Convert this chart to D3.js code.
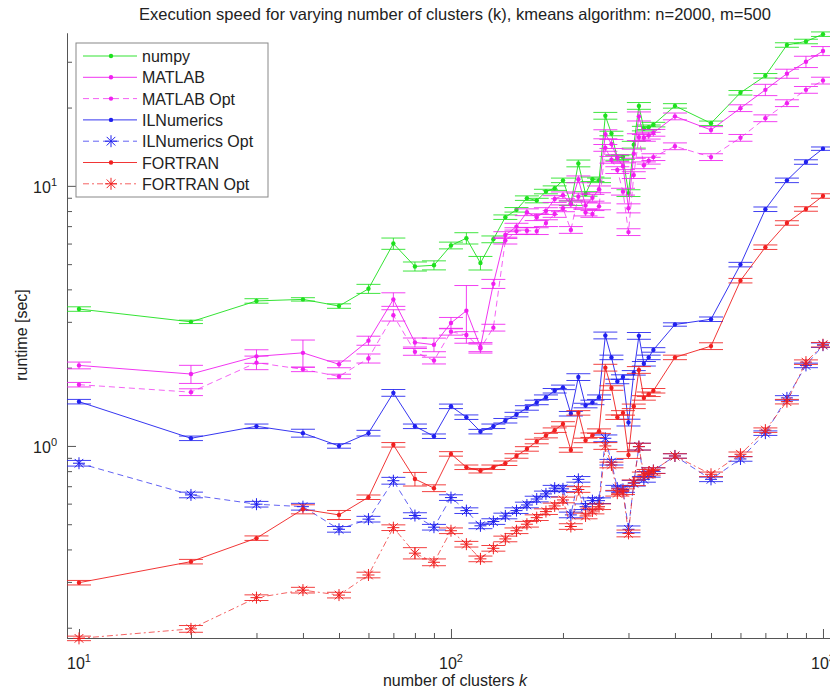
<!DOCTYPE html>
<html>
<head>
<meta charset="utf-8">
<script src="https://cdn.jsdelivr.net/npm/d3@7"></script>
<style>
  body { margin: 0; background: #fff; }
  text { font-family: "Liberation Sans", Arial, sans-serif; fill: #222; }
</style>
</head>
<body>
<script>
// number of clusters k
var k = [10, 20, 30, 40, 50, 60, 70, 80, 90, 100,
  110, 120, 130, 140, 150, 160, 170, 180, 190, 200,
  210, 220, 230, 240, 250, 260, 270, 280, 290, 300,
  310, 320, 330, 340, 350,
  400, 500, 600, 700, 800, 900, 1000];

// runtime [sec] per implementation
var numpy = [3.36, 3.0, 3.61, 3.66, 3.45, 4.02, 6.0, 4.9, 4.95, 5.9,
  6.29, 5.05, 6.23, 7.58, 8.09, 8.97, 8.78, 9.51, 9.8, 10.5,
  8.58, 12.2, 9.31, 10.6, 10.5, 18.6, 15.9, 12.8, 12.9, 9.38,
  14.4, 20.3, 16.6, 16.8, 17.2,
  20.3, 17.4, 22.8, 26.5, 34.8, 35.9, 38.3];
var matlab = [2.04, 1.89, 2.21, 2.28, 2.06, 2.54, 3.66, 2.5, 2.45, 2.97,
  3.31, 2.4, 4.2, 6.47, 6.97, 7.92, 7.58, 8.0, 8.9, 9.2,
  8.5, 10.6, 8.4, 9.0, 9.7, 15.8, 14.5, 12.8, 11.9, 8.2,
  13.3, 18.5, 15.3, 15.6, 16.0,
  18.5, 16.4, 19.9, 23.4, 27.0, 30.0, 33.0];
var matlabOpt = [1.72, 1.61, 2.09, 1.97, 1.85, 2.17, 3.18, 2.3, 2.13, 2.75,
  2.67, 2.37, 2.85, 6.16, 6.7, 6.72, 6.7, 7.19, 7.8, 8.2,
  6.77, 9.1, 7.9, 7.8, 8.34, 14.0, 12.6, 11.5, 9.5, 6.64,
  11.0, 15.4, 12.0, 12.5, 12.9,
  14.2, 12.9, 15.3, 18.2, 20.8, 23.4, 25.4];
var ilnumerics = [1.48, 1.07, 1.19, 1.12, 1.0, 1.12, 1.6, 1.19, 1.09, 1.42,
  1.29, 1.135, 1.19, 1.25, 1.32, 1.4, 1.47, 1.54, 1.63, 1.68,
  1.33, 1.84, 1.43, 1.47, 1.54, 2.66, 2.19, 1.77, 1.84, 1.23,
  1.91, 2.65, 2.07, 2.19, 2.34,
  2.93, 3.07, 4.98, 8.13, 10.5, 12.35, 13.9];
var ilnumericsOpt = [0.858, 0.648, 0.597, 0.584, 0.478, 0.523, 0.735, 0.54, 0.487, 0.633,
  0.564, 0.493, 0.512, 0.538, 0.564, 0.593, 0.625, 0.654, 0.688, 0.684,
  0.543, 0.744, 0.584, 0.616, 0.616, 1.07, 0.866, 0.688, 0.68, 0.478,
  0.719, 0.994, 0.744, 0.778, 0.804,
  0.915, 0.744, 0.891, 1.12, 1.53, 2.04, 2.44];
var fortran = [0.298, 0.359, 0.442, 0.571, 0.543, 0.635, 1.01, 0.746, 0.688, 0.932,
  0.828, 0.803, 0.828, 0.858, 0.915, 0.974, 1.04, 1.096, 1.15, 1.215,
  0.965, 1.34, 1.05, 1.1, 1.14, 2.0, 1.67, 1.29, 1.34, 0.923,
  1.42, 1.96, 1.53, 1.58, 1.63,
  2.19, 2.42, 4.32, 5.81, 7.2, 8.15, 9.14];
var fortranOpt = [0.182, 0.198, 0.261, 0.279, 0.267, 0.319, 0.485, 0.387, 0.357, 0.472,
  0.419, 0.368, 0.404, 0.439, 0.472, 0.5, 0.53, 0.559, 0.588, 0.62,
  0.49, 0.68, 0.538, 0.562, 0.584, 1.0, 0.845, 0.658, 0.667, 0.461,
  0.722, 0.994, 0.774, 0.792, 0.804,
  0.915, 0.778, 0.929, 1.15, 1.48, 2.1, 2.45];

// relative error bar half-lengths
var numpyErr = [0.02, 0.015, 0.02, 0.015, 0.02, 0.04, 0.05, 0.04, 0.04, 0.03,
  0.05, 0.06, 0.03, 0.02, 0.02, 0.02, 0.02, 0.02, 0.02, 0.02,
  0.02, 0.03, 0.02, 0.02, 0.02, 0.03, 0.02, 0.02, 0.02, 0.03,
  0.03, 0.03, 0.02, 0.02, 0.02,
  0.02, 0.02, 0.02, 0.02, 0.02, 0.02, 0.02];
var matlabErr = [0.03, 0.08, 0.06, 0.12, 0.03, 0.04, 0.06, 0.04, 0.06, 0.05,
  0.25, 0.04, 0.04, 0.03, 0.03, 0.03, 0.03, 0.03, 0.03, 0.03,
  0.03, 0.03, 0.03, 0.03, 0.03, 0.04, 0.04, 0.03, 0.03, 0.04,
  0.04, 0.04, 0.03, 0.03, 0.03,
  0.03, 0.03, 0.03, 0.05, 0.04, 0.05, 0.04];
var matlabOptErr = [0.02, 0.03, 0.06, 0.02, 0.02, 0.04, 0.05, 0.03, 0.03, 0.03,
  0.03, 0.04, 0.03, 0.03, 0.03, 0.03, 0.03, 0.03, 0.03, 0.03,
  0.03, 0.03, 0.03, 0.03, 0.03, 0.03, 0.03, 0.03, 0.03, 0.03,
  0.03, 0.03, 0.03, 0.03, 0.03,
  0.03, 0.03, 0.03, 0.03, 0.03, 0.03, 0.03];
var ilnumericsErr = [0.02, 0.02, 0.02, 0.035, 0.02, 0.025, 0.03, 0.02, 0.02, 0.02,
  0.02, 0.02, 0.02, 0.02, 0.02, 0.02, 0.02, 0.02, 0.02, 0.02,
  0.02, 0.03, 0.02, 0.02, 0.02, 0.03, 0.02, 0.02, 0.02, 0.03,
  0.02, 0.03, 0.02, 0.02, 0.02,
  0.015, 0.02, 0.02, 0.02, 0.02, 0.02, 0.015];
var ilnumericsOptErr = [0.025, 0.025, 0.025, 0.03, 0.025, 0.025, 0.03, 0.025, 0.025, 0.025,
  0.025, 0.025, 0.025, 0.025, 0.025, 0.025, 0.025, 0.025, 0.025, 0.025,
  0.025, 0.025, 0.025, 0.025, 0.025, 0.03, 0.025, 0.025, 0.025, 0.03,
  0.025, 0.03, 0.025, 0.025, 0.025,
  0.02, 0.02, 0.02, 0.02, 0.02, 0.02, 0.02];
var fortranErr = [0.02, 0.02, 0.02, 0.04, 0.04, 0.02, 0.02, 0.06, 0.03, 0.02,
  0.02, 0.02, 0.02, 0.02, 0.02, 0.02, 0.02, 0.02, 0.02, 0.02,
  0.02, 0.02, 0.02, 0.02, 0.02, 0.03, 0.02, 0.02, 0.02, 0.03,
  0.02, 0.03, 0.02, 0.02, 0.02,
  0.02, 0.03, 0.02, 0.02, 0.02, 0.02, 0.02];
var fortranOptErr = [0.02, 0.03, 0.025, 0.025, 0.025, 0.025, 0.025, 0.05, 0.03, 0.025,
  0.025, 0.025, 0.025, 0.025, 0.025, 0.025, 0.025, 0.025, 0.025, 0.025,
  0.025, 0.025, 0.025, 0.025, 0.025, 0.03, 0.025, 0.025, 0.025, 0.03,
  0.025, 0.03, 0.025, 0.025, 0.025,
  0.02, 0.02, 0.02, 0.02, 0.02, 0.02, 0.02];

// axis ticks
var xMajor = [10, 100, 1000];
var xMinor = [20, 30, 40, 50, 60, 70, 80, 90, 200, 300, 400, 500, 600, 700, 800, 900];
var yMajor = [1, 10];
var yMinor = [0.2, 0.3, 0.4, 0.5, 0.6, 0.7, 0.8, 0.9, 2, 3, 4, 5, 6, 7, 8, 9, 20, 30];

var series = [
  { name: "numpy", values: numpy, err: numpyErr, color: "#1ee01e", dash: null, marker: "dot" },
  { name: "MATLAB", values: matlab, err: matlabErr, color: "#f020f0", dash: null, marker: "dot" },
  { name: "MATLAB Opt", values: matlabOpt, err: matlabOptErr, color: "#f020f0", dash: "6,4", marker: "dot" },
  { name: "ILNumerics", values: ilnumerics, err: ilnumericsErr, color: "#2020ee", dash: null, marker: "dot" },
  { name: "ILNumerics Opt", values: ilnumericsOpt, err: ilnumericsOptErr, color: "#2020ee", dash: "6,4", marker: "star" },
  { name: "FORTRAN", values: fortran, err: fortranErr, color: "#f02020", dash: null, marker: "dot" },
  { name: "FORTRAN Opt", values: fortranOpt, err: fortranOptErr, color: "#f02020", dash: "6,3,2,3", marker: "star" }
];

var svgWidth = 830;
var svgHeight = 689;

var svg = d3.select("body")
  .append("svg")
  .attr("width", svgWidth)
  .attr("height", svgHeight);

var xScale = d3.scaleLog().domain([9.285, 1146]).range([67, 845]);
var yScale = d3.scaleLog().domain([0.1826, 38.7]).range([638, 33]);

var axisColor = "#555";

// x axis (ticks point inward)
svg.append("g")
  .attr("transform", "translate(0," + yScale.range()[0] + ")")
  .call(d3.axisBottom(xScale).tickValues(xMinor).tickSize(-5).tickSizeOuter(0).tickFormat(""));
svg.append("g")
  .attr("transform", "translate(0," + yScale.range()[0] + ")")
  .call(d3.axisBottom(xScale).tickValues(xMajor).tickSize(-9).tickSizeOuter(0).tickFormat(""));

// y axis
svg.append("g")
  .attr("transform", "translate(" + xScale.range()[0] + ",0)")
  .call(d3.axisLeft(yScale).tickValues(yMinor).tickSize(-5).tickSizeOuter(0).tickFormat(""));
svg.append("g")
  .attr("transform", "translate(" + xScale.range()[0] + ",0)")
  .call(d3.axisLeft(yScale).tickValues(yMajor).tickSize(-9).tickSizeOuter(0).tickFormat(""));

svg.selectAll(".domain, .tick line").attr("stroke", axisColor).attr("stroke-width", 1);

// tick labels as 10^n
xMajor.forEach(function(v) {
  var t = svg.append("text")
    .attr("x", xScale(v))
    .attr("y", 669)
    .attr("text-anchor", "middle")
    .style("font-size", "16px");
  t.append("tspan").text("10");
  t.append("tspan").attr("dy", -7).style("font-size", "11px").text(Math.round(Math.log10(v)));
});
yMajor.forEach(function(v) {
  var t = svg.append("text")
    .attr("x", 57)
    .attr("y", yScale(v) + 7)
    .attr("text-anchor", "end")
    .style("font-size", "16px");
  t.append("tspan").text("10");
  t.append("tspan").attr("dy", -7).style("font-size", "11px").text(Math.round(Math.log10(v)));
});

// title and axis labels
svg.append("text")
  .attr("x", 455)
  .attr("y", 20)
  .attr("text-anchor", "middle")
  .style("font-size", "16.5px")
  .text("Execution speed for varying number of clusters (k), kmeans algorithm: n=2000, m=500");

var xl = svg.append("text")
  .attr("x", 455)
  .attr("y", 686)
  .attr("text-anchor", "middle")
  .style("font-size", "16px");
xl.append("tspan").text("number of clusters ");
xl.append("tspan").style("font-style", "italic").text("k");

svg.append("text")
  .attr("transform", "translate(27,335) rotate(-90)")
  .attr("text-anchor", "middle")
  .style("font-size", "16px")
  .text("runtime [sec]");

// star marker (plus and cross on top of each other)
function starPath(r) {
  var d = r * 0.72;
  return "M" + (-r) + ",0L" + r + ",0M0," + (-r) + "L0," + r +
    "M" + (-d) + "," + (-d) + "L" + d + "," + d +
    "M" + (-d) + "," + d + "L" + d + "," + (-d);
}

var line = d3.line()
  .x(function(d) { return xScale(d.k); })
  .y(function(d) { return yScale(d.v); });

var capHalf = 12;

series.forEach(function(s) {
  var pts = k.map(function(kk, i) {
    return { k: kk, v: s.values[i], e: s.values[i] * s.err[i] };
  });
  var g = svg.append("g");

  // error bars
  var eb = g.selectAll("g.eb").data(pts).enter().append("g").attr("class", "eb")
    .attr("stroke", s.color).attr("stroke-width", 1).attr("stroke-opacity", 0.85);
  eb.append("line")
    .attr("x1", function(d) { return xScale(d.k); })
    .attr("x2", function(d) { return xScale(d.k); })
    .attr("y1", function(d) { return yScale(d.v - d.e); })
    .attr("y2", function(d) { return yScale(d.v + d.e); });
  eb.append("line")
    .attr("x1", function(d) { return xScale(d.k) - capHalf; })
    .attr("x2", function(d) { return xScale(d.k) + capHalf; })
    .attr("y1", function(d) { return yScale(d.v + d.e); })
    .attr("y2", function(d) { return yScale(d.v + d.e); });
  eb.append("line")
    .attr("x1", function(d) { return xScale(d.k) - capHalf; })
    .attr("x2", function(d) { return xScale(d.k) + capHalf; })
    .attr("y1", function(d) { return yScale(d.v - d.e); })
    .attr("y2", function(d) { return yScale(d.v - d.e); });

  // connecting line
  g.append("path")
    .datum(pts)
    .attr("fill", "none")
    .attr("stroke", s.color)
    .attr("stroke-width", 1)
    .attr("stroke-opacity", s.dash ? 0.7 : 0.9)
    .attr("stroke-dasharray", s.dash)
    .attr("d", line);

  // markers
  if (s.marker === "dot") {
    g.selectAll("circle").data(pts).enter().append("circle")
      .attr("cx", function(d) { return xScale(d.k); })
      .attr("cy", function(d) { return yScale(d.v); })
      .attr("r", 2.2)
      .attr("fill", s.color);
  } else {
    g.selectAll("path.star").data(pts).enter().append("path")
      .attr("class", "star")
      .attr("transform", function(d) { return "translate(" + xScale(d.k) + "," + yScale(d.v) + ")"; })
      .attr("d", starPath(6))
      .attr("fill", "none")
      .attr("stroke", s.color)
      .attr("stroke-width", 1);
  }
});

// legend
var legend = svg.append("g");
legend.append("rect")
  .attr("x", 76).attr("y", 43)
  .attr("width", 192).attr("height", 154)
  .attr("fill", "#fff")
  .attr("stroke", "#888")
  .attr("stroke-width", 1);

series.forEach(function(s, i) {
  var yy = 56 + i * 21.3;
  legend.append("line")
    .attr("x1", 83).attr("x2", 137)
    .attr("y1", yy).attr("y2", yy)
    .attr("stroke", s.color)
    .attr("stroke-width", 1)
    .attr("stroke-opacity", s.dash ? 0.7 : 0.9)
    .attr("stroke-dasharray", s.dash);
  if (s.marker === "dot") {
    legend.append("circle").attr("cx", 111).attr("cy", yy).attr("r", 2.2).attr("fill", s.color);
  } else {
    legend.append("path")
      .attr("transform", "translate(111," + yy + ")")
      .attr("d", starPath(6))
      .attr("fill", "none")
      .attr("stroke", s.color);
  }
  legend.append("text")
    .attr("x", 142)
    .attr("y", yy + 6)
    .style("font-size", "16px")
    .text(s.name);
});
</script>
</body>
</html>
